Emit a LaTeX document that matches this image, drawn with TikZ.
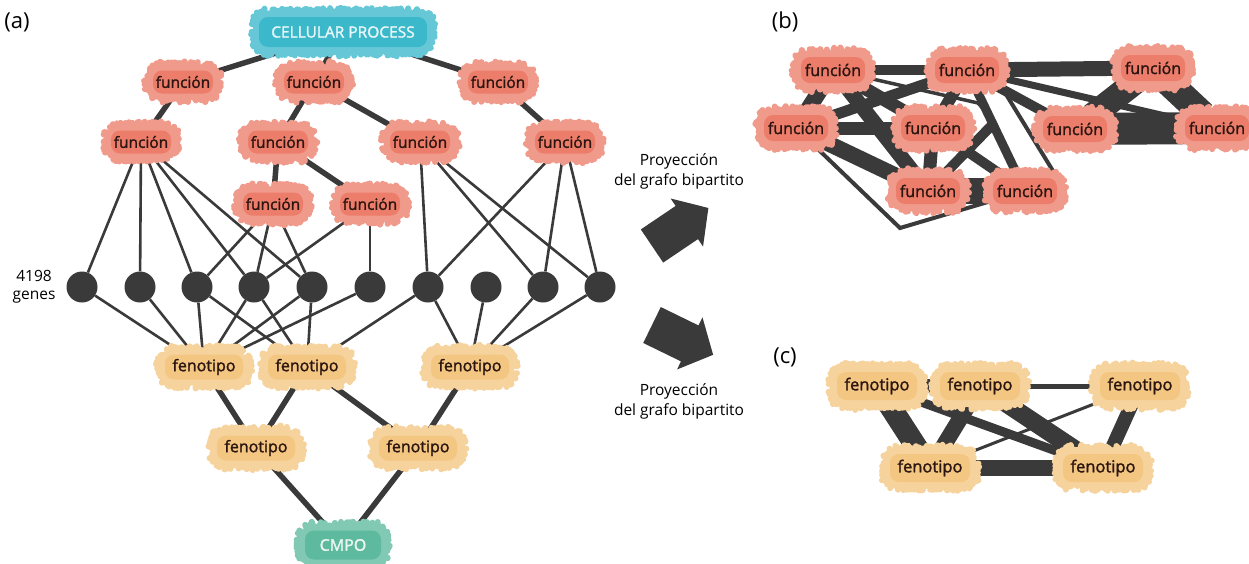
\documentclass[tikz,border=0pt]{standalone}
\usepackage{fontspec}
\setmainfont{Open Sans}
\newfontfamily\nodefont{Open Sans}[FakeBold=1.6]
\usetikzlibrary{decorations.pathmorphing}
\definecolor{fn}{HTML}{EC7D6A}
\definecolor{ph}{HTML}{F3C681}
\definecolor{cp}{HTML}{3BB9CA}
\definecolor{cm}{HTML}{5EBA9E}
\definecolor{edgec}{HTML}{3A3A3A}
\definecolor{txt}{HTML}{2B1510}
\pgfdeclarelayer{bg}
\pgfsetlayers{bg,main}
\pgfmathsetseed{7}
\begin{document}
\begin{tikzpicture}[x=1pt,y=-1pt,
  blob/.style={rectangle, rounded corners=9pt, fill=#1, inner sep=0pt,
    preaction={draw=#1!78!white, line width=6pt, line join=round, line cap=round, decorate,
      decoration={random steps, segment length=0.9pt, amplitude=1.4pt}}},
  fa/.style={blob=fn, minimum width=60pt, minimum height=23pt, text=txt, font=\nodefont\fontsize{15.5}{16}\selectfont},
  fb/.style={blob=fn, minimum width=64pt, minimum height=26pt, text=txt, font=\nodefont\fontsize{16}{17}\selectfont},
  pa/.style={blob=ph, minimum width=78pt, minimum height=25pt, text=txt, font=\nodefont\fontsize{16}{17}\selectfont},
  pc/.style={blob=ph, minimum width=80pt, minimum height=28pt, text=txt, font=\nodefont\fontsize{16.5}{17}\selectfont},
  gene/.style={circle, fill=edgec, minimum size=31pt, inner sep=0pt},
  thk/.style={draw=edgec, line width=5.5pt},
  thn/.style={draw=edgec, line width=2.6pt},
  w/.style={draw=edgec, line width=#1},
  lbl/.style={font=\fontsize{22}{24}\selectfont, text=black},
  captxt/.style={font=\fontsize{15.5}{20}\selectfont, align=center, text=black},
  blockarrow/.style={fill=edgec}
]
\useasboundingbox (0,0) rectangle (1249,563);

% ---------- labels ----------
\node[lbl] (la) at (17,22) {(a)};
\node[lbl] (lb) at (785,22) {(b)};
\node[lbl] (lc) at (785,357) {(c)};

% ---------- panel (a) ----------
\node[blob=cp, minimum width=168pt, minimum height=30pt, text=white!88!cp,
      font=\nodefont\fontsize{15.5}{16}\selectfont] (cp) at (343,32) {CELLULAR PROCESS};
\node[fa] (f1a) at (183,82) {función};
\node[fa] (f1b) at (314,82) {función};
\node[fa] (f1c) at (498,82) {función};
\node[fa] (f2a) at (141,142) {función};
\node[fa] (f2b) at (278,142) {función};
\node[fa] (f2c) at (420,142) {función};
\node[fa] (f2d) at (565,142) {función};
\node[fa] (f3a) at (273,204) {función};
\node[fa] (f3b) at (370,204) {función};

\foreach \i/\x in {1/82,2/140,3/197,4/254,5/312,6/370,7/428,8/486,9/543,10/600}
  \node[gene] (g\i) at (\x,287) {};
\node[font=\fontsize{15.5}{18}\selectfont, align=center] (gl) at (34,287) {4198\\genes};

\node[pa] (p1) at (204,367) {fenotipo};
\node[pa] (p2) at (307,367) {fenotipo};
\node[pa] (p3) at (470,367) {fenotipo};
\node[pa] (q1) at (256,448) {fenotipo};
\node[pa] (q2) at (418,448) {fenotipo};
\node[blob=cm, minimum width=76pt, minimum height=29pt, text=white!88!cm,
      font=\nodefont\fontsize{16}{17}\selectfont] (cmpo) at (343,545) {CMPO};

\begin{pgfonlayer}{bg}
  \foreach \a/\b in {cp/f1a,cp/f1b,cp/f1c,f1a/f2a,f1b/f2b,f1b/f2c,f1c/f2d,f2b/f3a,f2b/f3b,
                     p1/q1,p2/q1,p2/q2,p3/q2,q1/cmpo,q2/cmpo}
    \draw[thk] (\a) -- (\b);
  \foreach \a/\b in {f2a/g1,f2a/g2,f2a/g3,f2a/g4,f2a/g5,f3a/g3,f3a/g4,f3a/g5,f3b/g4,f3b/g6,
                     f2c/g7,f2c/g9,f2c/g10,f2d/g7,f2d/g9,f2d/g10,
                     g1/p1,g2/p1,g3/p1,g4/p1,g5/p1,g6/p1,g3/p2,g4/p2,g5/p2,g7/p2,
                     g7/p3,g8/p3,g9/p3,g10/p3}
    \draw[thn] (\a) -- (\b);
\end{pgfonlayer}

% ---------- arrows ----------
\node[captxt] (t1) at (679,171) {Proyección\\del grafo bipartito};
\node[captxt] (t2) at (679,401) {Proyección\\del grafo bipartito};
\begin{scope}[shift={(652,246)}, rotate=34]
  \fill[blockarrow] (0,-20) -- (42,-20) -- (42,-29) -- (68,0) -- (42,29) -- (42,20) -- (0,20) -- cycle;
\end{scope}
\begin{scope}[shift={(652,325)}, rotate=-26]
  \fill[blockarrow] (0,-20) -- (42,-20) -- (42,-29) -- (68,0) -- (42,29) -- (42,20) -- (0,20) -- cycle;
\end{scope}

% ---------- panel (b) ----------
\node[fb] (b1) at (833,70) {función};
\node[fb] (b2) at (967,70) {función};
\node[fb] (b3) at (1153,68) {función};
\node[fb] (b4) at (796,128) {función};
\node[fb] (b5) at (933,128) {función};
\node[fb] (b6) at (1075,129) {función};
\node[fb] (b7) at (1217,128) {función};
\node[fb] (b8) at (928,191) {función};
\node[fb] (b9) at (1025,191) {función};
\coordinate (k1) at (978,103);
\coordinate (k2) at (995,122);
\coordinate (k3) at (900,228);

\begin{pgfonlayer}{bg}
  \draw[w=10pt] (b1) -- (b2);
  \draw[w=15pt] (b2) -- (b3);
  \draw[w=16pt] (b1) -- (b4);
  \draw[w=13pt] (b1) -- (b5);
  \draw[w=15pt] (b1) -- (b8);
  \draw[w=3.5pt] (b1) -- (k1) -- (k2);
  \draw[w=10pt] (k2) -- (b8);
  \draw[w=12pt] (b2) -- (b5);
  \draw[w=11pt] (b2) -- (b4);
  \draw[w=9pt] (b2) -- (b9);
  \draw[w=4pt] (b2.south east) -- (b9.north east);
  \draw[w=10pt] (b2) -- (b6);
  \draw[w=7pt] (b2) -- (b7);
  \draw[w=13pt] (b4) -- (b5);
  \draw[w=16pt] (b4) -- (b8);
  \draw[w=4pt] (b4) -- (k3) -- (b9);
  \draw[w=13pt] (b5) -- (b8);
  \draw[w=10pt] (b5) -- (b9);
  \draw[w=26pt] (b8) -- (b9);
  \draw[w=25pt] (b3) -- (b6);
  \draw[w=27pt] (b3) -- (b7);
  \draw[w=32pt] (b6) -- (b7);
\end{pgfonlayer}

% ---------- panel (c) ----------
\node[pc] (c1) at (877,386) {fenotipo};
\node[pc] (c2) at (980,386) {fenotipo};
\node[pc] (c3) at (1140,386) {fenotipo};
\node[pc] (c4) at (930,468) {fenotipo};
\node[pc] (c5) at (1103,468) {fenotipo};

\begin{pgfonlayer}{bg}
  \draw[w=14pt] (c1) -- (c2);
  \draw[w=5pt] (c2) -- (c3);
  \draw[w=22pt] (c1) -- (c4);
  \draw[w=16pt] (c2) -- (c4);
  \draw[w=9pt] (c1) -- (c5);
  \draw[w=18pt] (c2) -- (c5);
  \draw[w=3pt] (c3) -- (c4);
  \draw[w=14pt] (c3) -- (c5);
  \draw[w=16pt] (c4) -- (c5);
\end{pgfonlayer}
\end{tikzpicture}
\end{document}
